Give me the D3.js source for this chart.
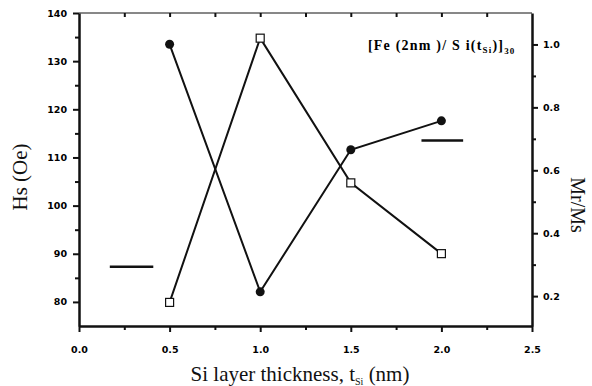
<!DOCTYPE html>
<html>
<head>
<meta charset="utf-8">
<script src="https://cdn.jsdelivr.net/npm/d3@7"></script>
<style>
  body { margin: 0; background: #fff; }
  .tick text { font-family: "DejaVu Sans", sans-serif; font-weight: bold; font-size: 9.5px; fill: #000; }
  .domain, .tick line { stroke: #111; }
</style>
</head>
<body>
<svg id="chart" width="592" height="386"></svg>
<script>
// thickness t_Si (nm)
var thickness = [0.5, 1.0, 1.5, 2.0];
// Hs (Oe), filled circles, left axis
var hsValues = [133.5, 82.1, 111.6, 117.6];
// Mr/Ms, open squares, right axis
var mrmsValues = [0.18, 1.02, 0.56, 0.335];
// reference dashes: [x0, x1, value]
var hsRef = [0.17, 0.41, 87.3];
var mrmsRef = [1.89, 2.12, 0.695];

var xTicks = [0.0, 0.5, 1.0, 1.5, 2.0, 2.5];
var hsTicks = [80, 90, 100, 110, 120, 130, 140];
var mrmsTicks = [0.2, 0.4, 0.6, 0.8, 1.0];

var margin = { top: 13, right: 60, bottom: 60, left: 79 };
var width = 592 - margin.left - margin.right,
  height = 386 - margin.top - margin.bottom;

var svg = d3.select('#chart');
var g = svg.append('g').attr('transform', 'translate(' + margin.left + ',' + margin.top + ')');

var x = d3.scaleLinear().domain([0, 2.5]).range([0, width]);
var yL = d3.scaleLinear().domain([75, 140]).range([height, 0]);
var yR = d3.scaleLinear().domain([0.105, 1.1]).range([height, 0]);

// minor ticks
g.append('g')
  .attr('transform', 'translate(0,' + height + ')')
  .call(d3.axisBottom(x).tickValues(d3.range(0.25, 2.5, 0.5)).tickSize(4).tickFormat(''))
  .call(function(s) { s.select('.domain').remove(); });
g.append('g')
  .call(d3.axisTop(x).tickValues(d3.range(0.25, 2.5, 0.25)).tickSize(-4).tickFormat(''))
  .call(function(s) { s.select('.domain').remove(); });
g.append('g')
  .call(d3.axisLeft(yL).tickValues(d3.range(85, 140, 10)).tickSize(4).tickFormat(''))
  .call(function(s) { s.select('.domain').remove(); });
g.append('g')
  .attr('transform', 'translate(' + width + ',0)')
  .call(d3.axisRight(yR).tickValues([0.3, 0.5, 0.7, 0.9]).tickSize(4).tickFormat(''))
  .call(function(s) { s.select('.domain').remove(); });

// main axes
g.append('g')
  .attr('transform', 'translate(0,' + height + ')')
  .call(d3.axisBottom(x).tickValues(xTicks).tickSize(6).tickSizeOuter(0).tickPadding(14).tickFormat(d3.format('.1f')));
g.append('g')
  .call(d3.axisLeft(yL).tickValues(hsTicks).tickSize(6).tickSizeOuter(0).tickPadding(6));
g.append('g')
  .attr('transform', 'translate(' + width + ',0)')
  .call(d3.axisRight(yR).tickValues(mrmsTicks).tickSize(6).tickSizeOuter(0).tickPadding(5).tickFormat(d3.format('.1f')));
g.append('line')
  .attr('x1', 0).attr('x2', width).attr('y1', 0).attr('y2', 0)
  .attr('stroke', '#111');

g.selectAll('.domain').attr('stroke-width', 2.5);
g.selectAll('.tick line').attr('stroke-width', 2);

// lines
var hsLine = d3.line().x(function(d, i) { return x(thickness[i]); }).y(function(d) { return yL(d); });
var mrLine = d3.line().x(function(d, i) { return x(thickness[i]); }).y(function(d) { return yR(d); });

g.append('path').datum(hsValues)
  .attr('d', hsLine).attr('fill', 'none').attr('stroke', '#111').attr('stroke-width', 2);
g.append('path').datum(mrmsValues)
  .attr('d', mrLine).attr('fill', 'none').attr('stroke', '#111').attr('stroke-width', 2);

g.selectAll('.hs-pt').data(hsValues).enter().append('circle')
  .attr('cx', function(d, i) { return x(thickness[i]); })
  .attr('cy', function(d) { return yL(d); })
  .attr('r', 4.5).attr('fill', '#111');

g.selectAll('.mr-pt').data(mrmsValues).enter().append('rect')
  .attr('x', function(d, i) { return x(thickness[i]) - 4; })
  .attr('y', function(d) { return yR(d) - 4; })
  .attr('width', 8).attr('height', 8)
  .attr('fill', '#fff').attr('stroke', '#111').attr('stroke-width', 1.2);

// reference dashes
g.append('line')
  .attr('x1', x(hsRef[0])).attr('x2', x(hsRef[1]))
  .attr('y1', yL(hsRef[2])).attr('y2', yL(hsRef[2]))
  .attr('stroke', '#111').attr('stroke-width', 2.5);
g.append('line')
  .attr('x1', x(mrmsRef[0])).attr('x2', x(mrmsRef[1]))
  .attr('y1', yR(mrmsRef[2])).attr('y2', yR(mrmsRef[2]))
  .attr('stroke', '#111').attr('stroke-width', 2.5);

// annotation
var ann = svg.append('text')
  .attr('x', 368).attr('y', 50)
  .attr('font-family', 'Liberation Serif, serif')
  .attr('font-weight', 'bold')
  .attr('font-size', 14)
  .attr('letter-spacing', 1.2)
  .attr('fill', '#000');
ann.append('tspan').text('[Fe (2nm )/ S i(t');
ann.append('tspan').attr('font-size', 9).attr('dy', 3).text('Si');
ann.append('tspan').attr('dy', -3).text(')]');
ann.append('tspan').attr('font-size', 9).attr('dy', 4).text('30');

// axis titles
svg.append('text')
  .attr('transform', 'translate(27,177) rotate(-90)')
  .attr('text-anchor', 'middle')
  .attr('font-family', 'Liberation Serif, serif')
  .attr('font-size', 21)
  .attr('fill', '#111')
  .text('Hs (Oe)');

svg.append('text')
  .attr('transform', 'translate(571,205) rotate(90)')
  .attr('text-anchor', 'middle')
  .attr('font-family', 'Liberation Serif, serif')
  .attr('font-size', 20)
  .attr('fill', '#111')
  .text('Mr/Ms');

var xt = svg.append('text')
  .attr('x', 300).attr('y', 381)
  .attr('text-anchor', 'middle')
  .attr('font-family', 'Liberation Serif, serif')
  .attr('font-size', 21)
  .attr('fill', '#111');
xt.append('tspan').text('Si layer thickness, t');
xt.append('tspan').attr('font-size', 10).attr('dy', 4).text('Si');
xt.append('tspan').attr('dy', -4).text(' (nm)');
</script>
</body>
</html>
